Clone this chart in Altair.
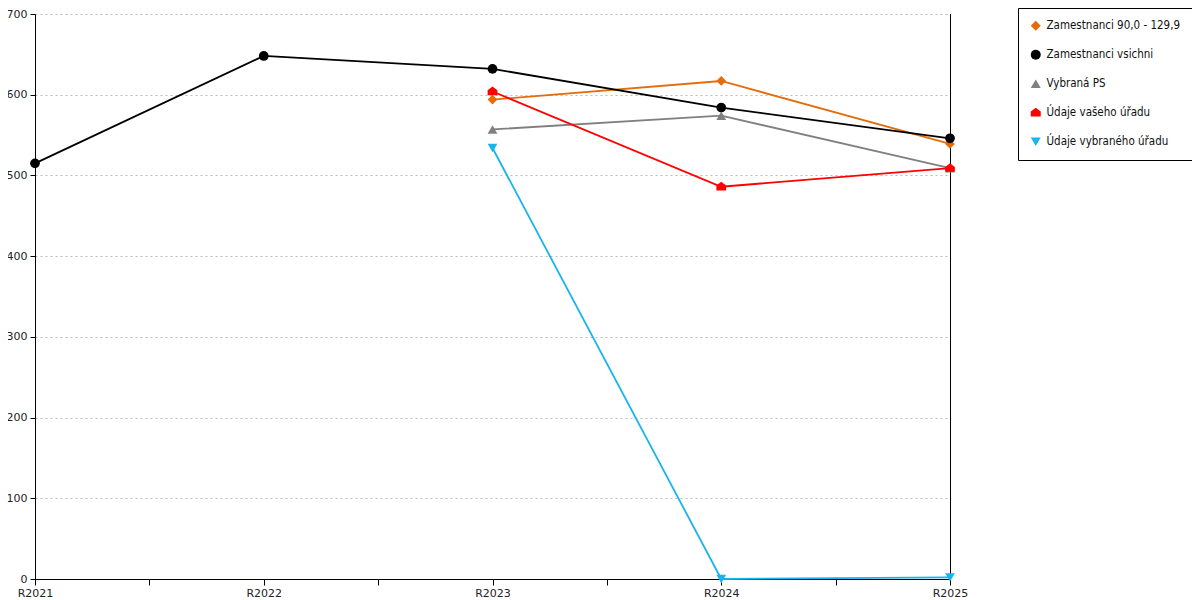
import altair as alt
import pandas as pd

years = [2021, 2022, 2023, 2024, 2025]
series = [
    "Zamestnanci 90,0 - 129,9",
    "Zamestnanci vsichni",
    "Vybraná PS",
    "Údaje vašeho úřadu",
    "Údaje vybraného úřadu",
]
colors = ["#E46C0A", "#000000", "#808080", "#FF0000", "#1AB4EC"]
house = "M0,-1L1,-0.25L1,0.75L-1,0.75L-1,-0.25Z"
shapes = ["diamond", "circle", "triangle-up", house, "triangle-down"]

orange_vals = [None, None, 594, 617, 539]
black_vals = [515, 648, 632, 584, 546]
gray_vals = [None, None, 557, 574, 509]
red_vals = [None, None, 604, 486, 509]
blue_vals = [None, None, 534, 0, 2]

rows = []
for name, vals in zip(series, [orange_vals, black_vals, gray_vals, red_vals, blue_vals]):
    for yr, v in zip(years, vals):
        if v is not None:
            rows.append({"year": yr, "value": v, "series": name})
df = pd.DataFrame(rows)

font = "DejaVu Sans"

x_enc = alt.X(
    "year:Q",
    scale=alt.Scale(domain=[2021, 2025], nice=False, zero=False),
    axis=alt.Axis(
        values=[2021, 2021.5, 2022, 2022.5, 2023, 2023.5, 2024, 2024.5, 2025],
        labelExpr="datum.value % 1 == 0 ? 'R' + datum.value : ''",
        title=None,
        grid=False,
        domainColor="black",
        tickColor="black",
        tickSize=6,
        labelFontSize=11,
        labelFont=font,
        labelColor="#222",
        labelPadding=2,
        labelFlush=False,
        labelOverlap=False,
    ),
)
y_enc = alt.Y(
    "value:Q",
    scale=alt.Scale(domain=[0, 700], nice=False),
    axis=alt.Axis(
        values=[0, 100, 200, 300, 400, 500, 600, 700],
        title=None,
        grid=True,
        gridColor="#BBBBBB",
        gridDash=[2, 3],
        domainColor="black",
        tickColor="black",
        tickSize=5,
        labelFontSize=11,
        labelFont=font,
        labelColor="#222",
        labelPadding=3,
    ),
)
color_enc = alt.Color(
    "series:N",
    scale=alt.Scale(domain=series, range=colors),
    legend=alt.Legend(title=None),
)
shape_enc = alt.Shape(
    "series:N",
    scale=alt.Scale(domain=series, range=shapes),
    legend=alt.Legend(title=None),
)

base = alt.Chart(df)
lines = base.mark_line(strokeWidth=1.8).encode(
    x=x_enc, y=y_enc,
    color=color_enc,
    detail="series:N",
    order="year:Q",
)
points = base.mark_point(filled=True, size=95, opacity=1).encode(
    x=x_enc, y=y_enc, color=color_enc, shape=shape_enc,
)
right_rule = alt.Chart(pd.DataFrame({"x": [2025]})).mark_rule(
    color="black", strokeWidth=1, xOffset=0.5
).encode(
    x=alt.X("x:Q", scale=alt.Scale(domain=[2021, 2025], nice=False, zero=False))
)

chart = (
    alt.layer(lines, right_rule, points)
    .properties(
        width=915,
        height=565,
        autosize=alt.AutoSizeParams(type="none"),
        padding={"left": 27, "top": 6, "right": 242, "bottom": 20},
    )
    .configure_view(stroke=None)
    .configure_legend(
        orient="none",
        legendX=983,
        legendY=-6,
        strokeColor="black",
        padding=12,
        rowPadding=16,
        labelFontSize=11.5,
        labelFont="DejaVu Sans Condensed",
        labelColor="#111",
        symbolSize=100,
        symbolStrokeWidth=0,
        labelOffset=5,
        fillColor="white",
    )
)

chart.save("out.html", embed_options={"renderer": "svg", "actions": False})
